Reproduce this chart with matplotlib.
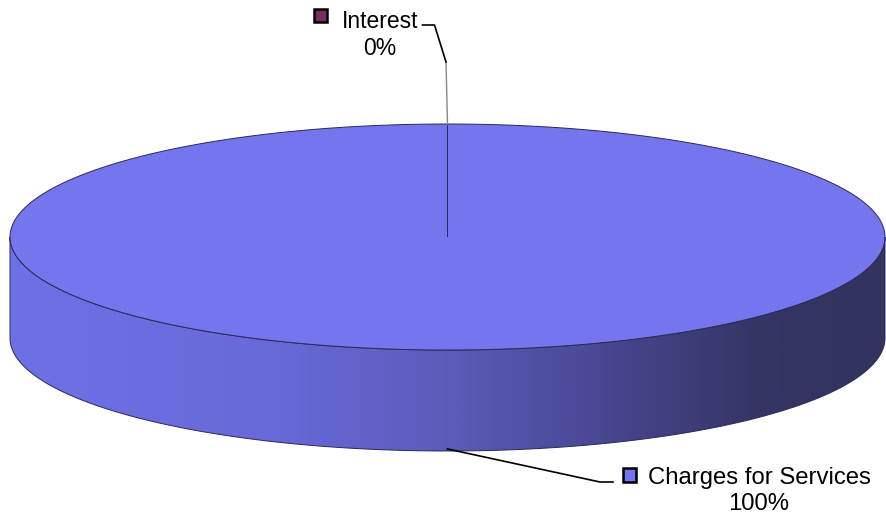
import numpy as np
import matplotlib
matplotlib.use("Agg")
import matplotlib.pyplot as plt
from matplotlib.patches import Polygon, Rectangle
from matplotlib.colors import LinearSegmentedColormap

# ---- data ----
labels = ["Interest", "Charges for Services"]
values = [0.0, 100.0]
pct_labels = ["0%", "100%"]
colors = ["#7B2A66", "#7576EE"]

plt.rcParams['font.family'] = ['Liberation Sans', 'DejaVu Sans']

W, H = 887, 520
fig = plt.figure(figsize=(W / 100, H / 100), dpi=100)
ax = fig.add_axes([0, 0, 1, 1])
ax.set_xlim(0, W)
ax.set_ylim(H, 0)
ax.axis('off')

cx, cy, a, b, depth = 447.5, 237.0, 437.5, 113.0, 101.0
edge = "#2a2a55"


def pt(t_deg, dy=0.0):
    t = np.radians(t_deg)
    return cx + a * np.cos(t), cy - b * np.sin(t) + dy


total = float(sum(values))
start = 90.0
ranges = []
for v in values:
    span = 360.0 * v / total
    ranges.append((start - span, start))
    start -= span

# side (front visible half: angles -180..0)
side_cmap = LinearSegmentedColormap.from_list(
    "side", [(0.0, (0.43, 0.44, 0.90)), (0.3, (0.41, 0.41, 0.85)),
             (0.5, (0.36, 0.36, 0.73)), (0.7, (0.27, 0.27, 0.55)),
             (0.85, (0.21, 0.21, 0.40)), (1.0, (0.20, 0.20, 0.37))])
for (lo, hi), v in zip(ranges, values):
    if v <= 0:
        continue
    for shift in (-360, 0, 360):
        l2, h2 = max(lo + shift, -180.0), min(hi + shift, 0.0)
        if h2 > l2:
            ts = np.linspace(l2, h2, 200)
            top = [pt(t) for t in ts]
            bot = [pt(t, depth) for t in ts[::-1]]
            poly = Polygon(top + bot, closed=True, facecolor="none",
                           edgecolor=edge, lw=0.7, zorder=2)
            ax.add_patch(poly)
            grad = np.linspace(0, 1, 512).reshape(1, -1)
            im = ax.imshow(grad, cmap=side_cmap, aspect='auto',
                           extent=(cx - a, cx + a, cy + b + depth + 2, cy - 2),
                           zorder=1, interpolation='bilinear')
            im.set_clip_path(poly)

# top faces
for (lo, hi), c in zip(ranges, colors):
    ts = np.linspace(hi, lo, 400)
    pts = [(cx, cy)] + [pt(t) for t in ts]
    ax.add_patch(Polygon(pts, closed=True, facecolor=c, edgecolor=edge,
                         lw=0.7, zorder=3))

# labels with leaders
# Interest (top)
mid0 = (ranges[0][0] + ranges[0][1]) / 2
x0, y0 = pt(mid0)
ax.plot([x0, x0 - 1.5], [y0, 62], color="#888888", lw=1.0, zorder=4)
ax.plot([x0 - 1.5, x0 - 13, x0 - 25], [62, 25, 25], color="black", lw=1.2, zorder=4)
ax.text(380, 35, labels[0] + "\n" + pct_labels[0], ha='center', va='center',
        fontsize=16.5, linespacing=1.2)
ax.add_patch(Rectangle((314, 8.5), 13.5, 13.5, facecolor=colors[0],
                       edgecolor="black", lw=1.8, zorder=5))

# Charges (bottom)
mid1 = (ranges[1][0] + ranges[1][1]) / 2
x1, y1 = pt(mid1, depth)
ax.plot([x1, 600, 613], [y1 - 2, 482, 482], color="black", lw=1.2, zorder=4)
ax.text(759, 491, labels[1] + "\n" + pct_labels[1], ha='center', va='center',
        fontsize=17.2, linespacing=1.2)
ax.add_patch(Rectangle((623, 468), 13.5, 13.5, facecolor=colors[1],
                       edgecolor="black", lw=1.8, zorder=5))

fig.savefig("out.png", dpi=100)
